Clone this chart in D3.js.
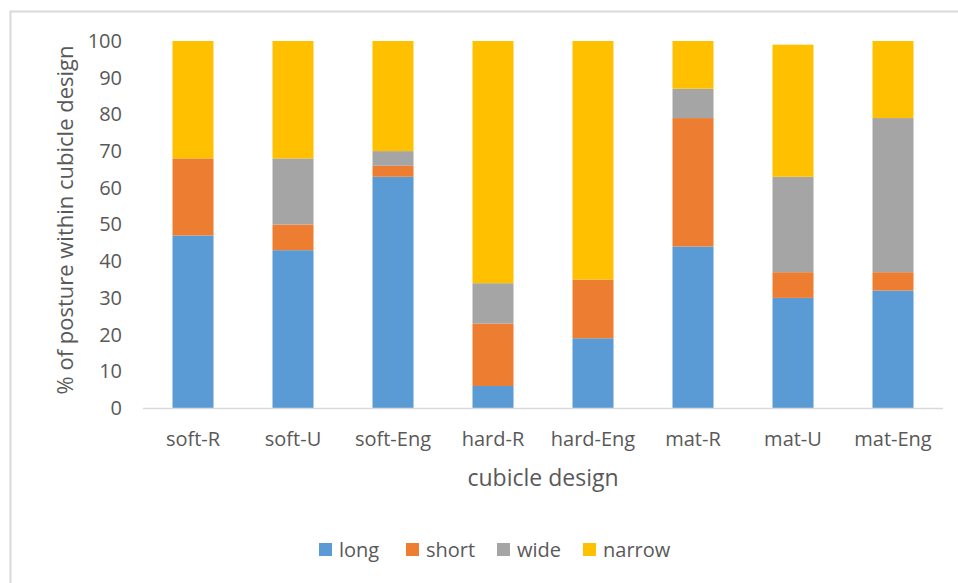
<!DOCTYPE html>
<html>
<head>
<meta charset="utf-8">
<script src="https://cdn.jsdelivr.net/npm/d3@7/dist/d3.min.js"></script>
<style>
  html, body { margin: 0; padding: 0; background: #fff; }
  svg { display: block; }
  text { font-family: "Open Sans", "Liberation Sans", sans-serif; fill: #595959; }
</style>
</head>
<body>
<svg id="chart" width="958" height="583"></svg>
<script>
// Cubicle designs along the x axis
const categories = ["soft-R", "soft-U", "soft-Eng", "hard-R", "hard-Eng", "mat-R", "mat-U", "mat-Eng"];

// Posture shares (%) within each cubicle design, stacked bottom to top
const seriesNames = ["long", "short", "wide", "narrow"];
const longVals   = [47, 43, 63,  6, 19, 44, 30, 32];
const shortVals  = [21,  7,  3, 17, 16, 35,  7,  5];
const wideVals   = [ 0, 18,  4, 11,  0,  8, 26, 42];
const narrowVals = [32, 32, 30, 66, 65, 13, 36, 21];
const seriesColors = ["#5b9bd5", "#ed7d31", "#a5a5a5", "#ffc000"];

const yTicks = [0, 10, 20, 30, 40, 50, 60, 70, 80, 90, 100];

const svg = d3.select("#chart");
const W = 958, H = 583;

// Chart-area frame (top and left edges fall inside the view)
svg.append("rect")
  .attr("x", 10.5).attr("y", 11.5)
  .attr("width", W + 20).attr("height", H + 20)
  .attr("fill", "#fff")
  .attr("stroke", "#d9d9d9")
  .attr("stroke-width", 2);

const plot = { left: 143, right: 943, top: 41, bottom: 408 };

const x = d3.scaleBand()
  .domain(categories)
  .range([plot.left, plot.right])
  .paddingInner(0.59)
  .paddingOuter(0.295);

const y = d3.scaleLinear()
  .domain([0, 100])
  .range([plot.bottom, plot.top]);

const table = categories.map((c, i) => ({
  cat: c,
  long: longVals[i],
  short: shortVals[i],
  wide: wideVals[i],
  narrow: narrowVals[i]
}));

const stacked = d3.stack().keys(seriesNames)(table);

const layers = svg.append("g").selectAll("g")
  .data(stacked)
  .join("g")
  .attr("fill", (d, i) => seriesColors[i]);

layers.selectAll("rect")
  .data(d => d)
  .join("rect")
  .attr("x", d => x(d.data.cat))
  .attr("width", x.bandwidth())
  .attr("y", d => y(d[1]))
  .attr("height", d => y(d[0]) - y(d[1]));

// Category axis baseline
svg.append("line")
  .attr("x1", plot.left).attr("x2", plot.right)
  .attr("y1", plot.bottom + 0.5).attr("y2", plot.bottom + 0.5)
  .attr("stroke", "#d9d9d9").attr("stroke-width", 1.5);

// Value axis tick labels
const yAxis = d3.axisLeft(y).tickValues(yTicks).tickSize(0).tickPadding(0);
const yg = svg.append("g")
  .attr("transform", `translate(${122},0)`)
  .call(yAxis);
yg.select(".domain").remove();
yg.selectAll("text")
  .attr("font-size", 20)
  .attr("fill", "#595959")
  .style("font-family", "'Open Sans', sans-serif");

// Category labels
const xAxis = d3.axisBottom(x).tickSize(0).tickPadding(0);
const xg = svg.append("g")
  .attr("transform", `translate(0,${432})`)
  .call(xAxis);
xg.select(".domain").remove();
xg.selectAll("text")
  .attr("font-size", 20)
  .attr("fill", "#595959")
  .style("font-family", "'Open Sans', sans-serif");

// Axis titles
svg.append("text")
  .attr("x", (plot.left + plot.right) / 2)
  .attr("y", 486)
  .attr("text-anchor", "middle")
  .attr("font-size", 23)
  .text("cubicle design");

svg.append("text")
  .attr("transform", `translate(${73},${220}) rotate(-90)`)
  .attr("text-anchor", "middle")
  .attr("font-size", 22)
  .text("% of posture within cubicle design");

// Legend
const legendX = [319, 406, 497, 583];
const legend = svg.append("g").selectAll("g")
  .data(seriesNames)
  .join("g")
  .attr("transform", (d, i) => `translate(${legendX[i]},${543})`);
legend.append("rect")
  .attr("width", 13).attr("height", 13)
  .attr("fill", (d, i) => seriesColors[i]);
legend.append("text")
  .attr("x", 20).attr("y", 13.5)
  .attr("font-size", 20)
  .text(d => d);
</script>
</body>
</html>
